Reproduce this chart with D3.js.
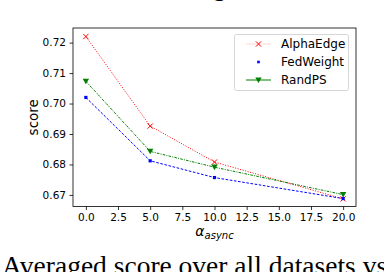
<!DOCTYPE html>
<html>
<head>
<meta charset="utf-8">
<script src="https://cdn.jsdelivr.net/npm/d3@7"></script>
<style>
  body { margin: 0; background: #fff; }
  svg { display: block; font-family: "DejaVu Sans", sans-serif; }
  .caption { font-family: "Liberation Serif", serif; }
</style>
</head>
<body>
<div id="chart"></div>
<script>
// data
var alphaAsync = [0, 5, 10, 20];
var alphaEdge = [0.7220, 0.6926, 0.6808, 0.6687];
var fedWeight = [0.7020, 0.6812, 0.6757, 0.6688];
var randPS = [0.7073, 0.6843, 0.6791, 0.6701];
var seriesNames = ['AlphaEdge', 'FedWeight', 'RandPS'];
var xTicks = [0, 2.5, 5, 7.5, 10, 12.5, 15, 17.5, 20];
var yTicks = [0.67, 0.68, 0.69, 0.70, 0.71, 0.72];

var W = 384, H = 272;
var margin = { top: 28, right: 28, bottom: 65.5, left: 73 };

var svg = d3.select('#chart').append('svg')
  .attr('width', W)
  .attr('height', H);

var x = d3.scaleLinear().domain([-1, 21]).range([margin.left, W - margin.right]);
var y = d3.scaleLinear().domain([0.6662, 0.7248]).range([H - margin.bottom, margin.top]);

// caption fragments (cut off by the page edges, as in the source)
svg.append('text')
  .attr('class', 'caption')
  .attr('x', 213)
  .attr('y', -4)
  .attr('font-size', 26)
  .text('g');

svg.append('text')
  .attr('class', 'caption')
  .attr('x', 2)
  .attr('y', 275)
  .attr('font-size', 27.5)
  .attr('fill', '#000')
  .text('Averaged score over all datasets vs. α');

// axes
var xAxis = d3.axisBottom(x).tickValues(xTicks).tickFormat(d3.format('.1f'))
  .tickSizeInner(3.5).tickSizeOuter(0).tickPadding(3.5);
var yAxis = d3.axisLeft(y).tickValues(yTicks).tickFormat(d3.format('.2f'))
  .tickSizeInner(3.5).tickSizeOuter(0).tickPadding(3.5);

var gx = svg.append('g')
  .attr('transform', `translate(0, ${H - margin.bottom})`)
  .call(xAxis);
var gy = svg.append('g')
  .attr('transform', `translate(${margin.left}, 0)`)
  .call(yAxis);

[gx, gy].forEach(function(g) {
  g.select('.domain').remove();
  g.selectAll('line').attr('stroke', '#000').attr('stroke-width', 0.8);
  g.selectAll('text').attr('font-size', 10.5).attr('fill', '#000')
    .attr('font-family', '"DejaVu Sans", sans-serif');
});

// frame
svg.append('rect')
  .attr('x', margin.left)
  .attr('y', margin.top)
  .attr('width', W - margin.left - margin.right)
  .attr('height', H - margin.top - margin.bottom)
  .attr('fill', 'none')
  .attr('stroke', '#000')
  .attr('stroke-width', 0.8);

// axis labels
svg.append('text')
  .attr('transform', `translate(38, ${(margin.top + H - margin.bottom) / 2}) rotate(-90)`)
  .attr('text-anchor', 'middle')
  .attr('font-size', 13.5)
  .text('score');

var xl = svg.append('text')
  .attr('x', (margin.left + W - margin.right) / 2)
  .attr('y', 236)
  .attr('text-anchor', 'middle');
xl.append('tspan').attr('font-style', 'italic').attr('font-size', 14).text('α');
xl.append('tspan').attr('font-style', 'italic').attr('font-size', 10).attr('dy', 2.5).text('async');

// series
var series = [
  { name: seriesNames[0], values: alphaEdge, color: '#ff0000', dash: '1,1.6', marker: 'x' },
  { name: seriesNames[1], values: fedWeight, color: '#0000ff', dash: '2.6,1.6', marker: 'square' },
  { name: seriesNames[2], values: randPS, color: '#008000', dash: '2.6,1.2,1,1.2', marker: 'tri' }
];

var line = d3.line()
  .x(function(d) { return x(d[0]); })
  .y(function(d) { return y(d[1]); });

function drawMarker(g, kind, color, cx, cy, small) {
  if (kind === 'x') {
    var s = 2.6;
    g.append('path')
      .attr('d', `M${cx - s},${cy - s}L${cx + s},${cy + s}M${cx - s},${cy + s}L${cx + s},${cy - s}`)
      .attr('stroke', color).attr('stroke-width', 1).attr('fill', 'none');
  } else if (kind === 'square') {
    var h = small ? 1.3 : 1.6;
    g.append('rect')
      .attr('x', cx - h).attr('y', cy - h)
      .attr('width', 2 * h).attr('height', 2 * h)
      .attr('fill', color);
  } else {
    g.append('path')
      .attr('d', `M${cx - 3.2},${cy - 2.6}L${cx + 3.2},${cy - 2.6}L${cx},${cy + 3}Z`)
      .attr('fill', color);
  }
}

series.forEach(function(s) {
  var pts = alphaAsync.map(function(a, i) { return [a, s.values[i]]; });
  svg.append('path')
    .datum(pts)
    .attr('d', line)
    .attr('fill', 'none')
    .attr('stroke', s.color)
    .attr('stroke-width', 1)
    .attr('stroke-dasharray', s.dash);
  var g = svg.append('g');
  pts.forEach(function(p) { drawMarker(g, s.marker, s.color, x(p[0]), y(p[1])); });
});

// legend
var legend = svg.append('g');
legend.append('rect')
  .attr('x', 234.5).attr('y', 34.5)
  .attr('width', 114).attr('height', 56)
  .attr('rx', 2)
  .attr('fill', '#fff').attr('fill-opacity', 0.8)
  .attr('stroke', '#cccccc').attr('stroke-width', 0.8);

var legendY = [44, 62, 80];
series.forEach(function(s, i) {
  var ly = legendY[i];
  if (i === 0) {
    legend.append('line')
      .attr('x1', 246).attr('x2', 271).attr('y1', ly).attr('y2', ly)
      .attr('stroke', '#ffd6d6').attr('stroke-width', 1);
  } else if (i === 2) {
    legend.append('line')
      .attr('x1', 246).attr('x2', 271).attr('y1', ly).attr('y2', ly)
      .attr('stroke', s.color).attr('stroke-width', 1);
  }
  drawMarker(legend, s.marker, s.color, 258.5, ly, true);
  legend.append('text')
    .attr('x', 281)
    .attr('y', ly)
    .attr('dy', '0.36em')
    .attr('font-size', 12)
    .text(s.name);
});
</script>
</body>
</html>
